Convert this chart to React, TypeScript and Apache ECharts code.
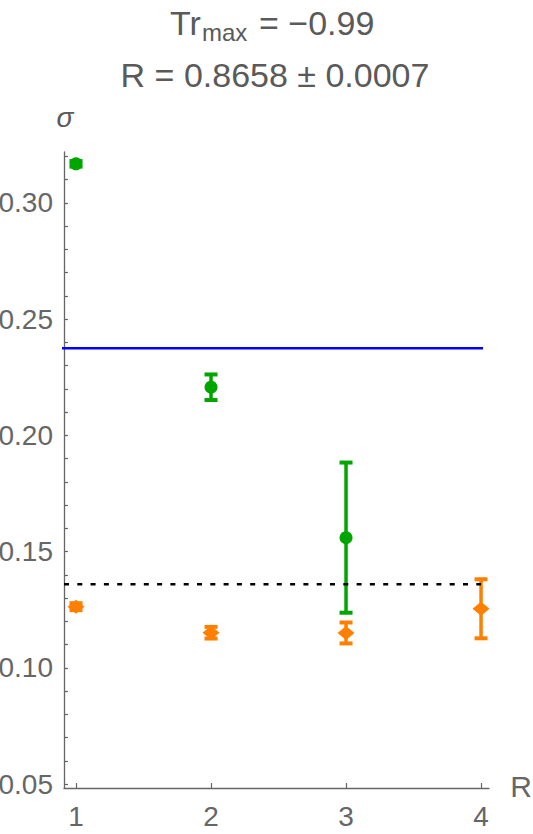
import React, { useEffect, useRef } from "react";
import * as echarts from "echarts";

const FONT = "'Liberation Sans', Arial, sans-serif";

// x positions (R) and tick labels
const xTicks = [1, 2, 3, 4];
const yLabels = [0.05, 0.1, 0.15, 0.2, 0.25, 0.3];
const yTicks = [
  0.05, 0.06, 0.07, 0.08, 0.09, 0.1, 0.11, 0.12, 0.13, 0.14, 0.15, 0.16, 0.17,
  0.18, 0.19, 0.2, 0.21, 0.22, 0.23, 0.24, 0.25, 0.26, 0.27, 0.28, 0.29, 0.3,
  0.31, 0.32,
];

// green series (circles)
const greenX = [1, 2, 3];
const greenY = [0.3168, 0.2207, 0.156];
const greenErr = [0.0012, 0.0055, 0.0323];

// orange series (diamonds)
const orangeX = [1, 2, 3, 4];
const orangeY = [0.1263, 0.1151, 0.115, 0.1254];
const orangeErr = [0.0015, 0.0025, 0.0045, 0.0127];

// reference lines
const blueLevel = 0.2375;
const blackLevel = 0.136;

const X_MIN = 0.911;
const X_MAX = 4.059;
const Y_MIN = 0.0483;
const Y_MAX = 0.3219;

const GREEN = "#00a600";
const ORANGE = "#ff8000";
const AXIS = "#666666";
const TITLE = "#5a5a5a";

function errorSeries(xs: number[], ys: number[], es: number[], color: string) {
  return {
    type: "custom",
    clip: false,
    encode: { x: 0, y: 1 },
    data: xs.map((x, i) => [x, ys[i], es[i]]),
    renderItem: (params: any, api: any) => {
      const x = api.value(0);
      const y = api.value(1);
      const e = api.value(2);
      const top = api.coord([x, y + e]);
      const bot = api.coord([x, y - e]);
      const cw = 13;
      const ch = 4;
      return {
        type: "group",
        children: [
          {
            type: "line",
            shape: { x1: top[0], y1: top[1], x2: bot[0], y2: bot[1] },
            style: { stroke: color, lineWidth: 3.5 },
          },
          {
            type: "rect",
            shape: { x: top[0] - cw / 2, y: top[1] - ch / 2, width: cw, height: ch },
            style: { fill: color },
          },
          {
            type: "rect",
            shape: { x: bot[0] - cw / 2, y: bot[1] - ch / 2, width: cw, height: ch },
            style: { fill: color },
          },
        ],
      };
    },
  };
}

export default function App() {
  const ref = useRef<HTMLDivElement>(null);
  useEffect(() => {
    if (!ref.current) return;
    const chart = echarts.init(ref.current, null, { renderer: "svg" });
    const option: any = {
      animation: false,
      grid: { left: 64, right: 44, top: 152, bottom: 46, outerBoundsMode: "none", containLabel: false },
      xAxis: {
        type: "value",
        min: X_MIN,
        max: X_MAX,
        axisLine: { show: true, onZero: false, lineStyle: { color: AXIS, width: 1.3 } },
        axisTick: {
          show: true,
          inside: true,
          length: 5,
          customValues: xTicks,
          lineStyle: { color: AXIS, width: 1.2 },
        },
        axisLabel: {
          customValues: xTicks,
          fontSize: 28,
          fontFamily: FONT,
          color: AXIS,
          margin: 14,
          formatter: (v: number) => String(v),
        },
        splitLine: { show: false },
      },
      yAxis: {
        type: "value",
        min: Y_MIN,
        max: Y_MAX,
        axisLine: { show: true, onZero: false, lineStyle: { color: AXIS, width: 1.3 } },
        axisTick: {
          show: true,
          inside: true,
          length: 4,
          customValues: yTicks,
          lineStyle: { color: AXIS, width: 1.2 },
        },
        axisLabel: {
          customValues: yLabels,
          fontSize: 28,
          fontFamily: FONT,
          color: AXIS,
          margin: 11,
          formatter: (v: number) => v.toFixed(2),
        },
        splitLine: { show: false },
      },
      graphic: [
        {
          type: "text",
          x: 170,
          y: 23,
          style: { text: "Tr", font: `34px ${FONT}`, fill: TITLE, align: "left", verticalAlign: "middle" },
        },
        {
          type: "text",
          x: 202,
          y: 32,
          style: { text: "max", font: `24px ${FONT}`, fill: TITLE, align: "left", verticalAlign: "middle" },
        },
        {
          type: "text",
          x: 259,
          y: 23,
          style: { text: "= \u22120.99", font: `34px ${FONT}`, fill: TITLE, align: "left", verticalAlign: "middle" },
        },
        {
          type: "text",
          x: 275,
          y: 75,
          style: {
            text: "R = 0.8658 \u00b1 0.0007",
            font: `34px ${FONT}`,
            fill: TITLE,
            align: "center",
            verticalAlign: "middle",
          },
        },
        {
          type: "text",
          x: 65,
          y: 117,
          style: {
            text: "\u03c3",
            font: `italic 28px ${FONT}`,
            fill: TITLE,
            align: "center",
            verticalAlign: "middle",
          },
        },
        {
          type: "text",
          x: 521,
          y: 786,
          style: { text: "R", font: `30px ${FONT}`, fill: AXIS, align: "center", verticalAlign: "middle" },
        },
      ],
      series: [
        {
          type: "line",
          data: [
            [X_MIN - 0.015, blueLevel],
            [4.015, blueLevel],
          ],
          symbol: "none",
          clip: false,
          lineStyle: { color: "#0000ff", width: 2.6 },
        },
        {
          type: "line",
          data: [
            [X_MIN, blackLevel],
            [4.0, blackLevel],
          ],
          symbol: "none",
          lineStyle: { color: "#000000", width: 2.5, type: [5, 8.3] },
        },
        errorSeries(greenX, greenY, greenErr, GREEN),
        errorSeries(orangeX, orangeY, orangeErr, ORANGE),
        {
          type: "scatter",
          data: greenX.map((x, i) => [x, greenY[i]]),
          symbol: "circle",
          symbolSize: 13,
          itemStyle: { color: GREEN, opacity: 1 },
        },
        {
          type: "scatter",
          data: orangeX.map((x, i) => [x, orangeY[i]]),
          symbol: "diamond",
          symbolSize: [17, 14],
          itemStyle: { color: ORANGE, opacity: 1 },
        },
      ],
    };
    chart.setOption(option);
    return () => chart.dispose();
  }, []);
  return (
    <div
      ref={ref}
      style={{ position: "absolute", left: 0, top: 0, width: 533, height: 834 }}
    />
  );
}
